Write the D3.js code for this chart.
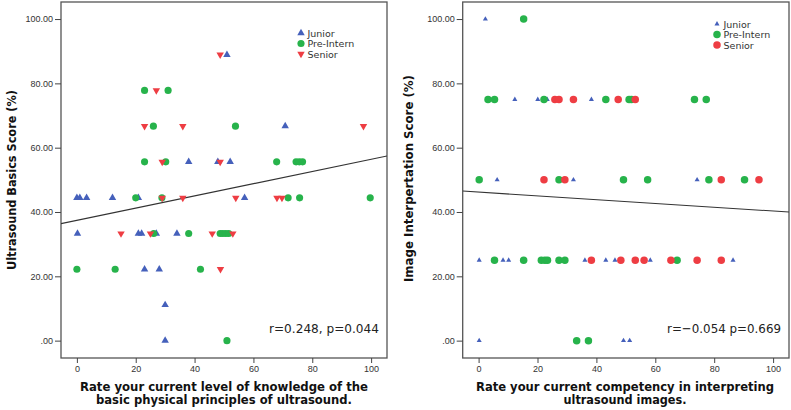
<!DOCTYPE html>
<html><head><meta charset="utf-8">
<script src="https://cdn.jsdelivr.net/npm/d3@7/dist/d3.min.js"></script>
<style>
body{margin:0;background:#fff;}
svg{display:block;font-family:"DejaVu Sans",sans-serif;}
.tick text{fill:#333;font-size:9px;}
.tick line,.domain{stroke:#444;}
</style></head>
<body><svg id="chart" width="791" height="410"></svg>
<script>
// ---------- data ----------
const groups = ["Junior", "Pre-Intern", "Senior"];
const yTicks = [0, 20, 40, 60, 80, 100];
const xTicks = [0, 20, 40, 60, 80, 100];

// Left panel: knowledge rating (x) vs Ultrasound Basics Score (y)
const leftJuniorX = [51, 70.8, 38, 47.9, 52.1, 0, 1, 3.3, 12.1, 20.9, 57, 0.2, 20.9, 22, 27, 34, 23, 28, 30, 30];
const leftJuniorY = [88.9, 66.7, 55.6, 55.6, 55.6, 44.4, 44.4, 44.4, 44.4, 44.4, 44.4, 33.3, 33.3, 33.3, 33.3, 33.3, 22.2, 22.2, 11.1, 0];
const leftPreX = [23, 31, 26, 53.9, 23, 30.2, 67.9, 74.5, 75.6, 76.7, 20, 28.9, 71.8, 75.7, 99.7, 26.1, 38, 48.7, 49.6, 50.6, 51.6, 0, 13, 42, 51];
const leftPreY = [77.8, 77.8, 66.7, 66.7, 55.6, 55.6, 55.6, 55.6, 55.6, 55.6, 44.4, 44.4, 44.4, 44.4, 44.4, 33.3, 33.3, 33.3, 33.3, 33.3, 33.3, 22.2, 22.2, 22.2, 0];
const leftSenX = [48.7, 27, 23, 36, 97.4, 29, 48.7, 29, 36, 54, 68, 69.7, 15, 25, 46, 53, 48.8];
const leftSenY = [88.9, 77.8, 66.7, 66.7, 66.7, 55.6, 55.6, 44.4, 44.4, 44.4, 44.4, 44.4, 33.3, 33.3, 33.3, 33.3, 22.2];

// Right panel: competency rating (x) vs Image Interpretation Score (y)
const rightJuniorX = [2.3, 12.3, 20.1, 23.3, 38.3, 6.3, 32.2, 74.2, 0.2, 8.3, 10.2, 36.1, 43.2, 46.3, 58.3, 86.4, 0.2, 49.2, 51.3];
const rightJuniorY = [100, 75, 75, 75, 75, 50, 50, 50, 25, 25, 25, 25, 25, 25, 25, 25, 0, 0, 0];
const rightPreX = [15.3, 3.2, 5.4, 22.2, 43.2, 51.1, 51.9, 73.3, 77.3, 0.2, 27.3, 49.2, 57.4, 78.2, 90.3, 5.4, 15.3, 21.3, 22.5, 23.4, 27.3, 29.3, 67.4, 33.3, 37.3];
const rightPreY = [100, 75, 75, 75, 75, 75, 75, 75, 75, 50, 50, 50, 50, 50, 50, 25, 25, 25, 25, 25, 25, 25, 25, 0, 0];
const rightSenX = [25.9, 27.3, 32.2, 47.4, 53.2, 22.2, 29.3, 82.4, 95.2, 38.3, 48.3, 53.2, 56.2, 65.3, 74.2, 82.4];
const rightSenY = [75, 75, 75, 75, 75, 50, 50, 50, 50, 25, 25, 25, 25, 25, 25, 25];

// fit lines: [intercept, slope]
const leftFit = [37.4, 0.19];
const rightFit = [46.2, -0.059];
const leftStat = "r=0.248, p=0.044";
const rightStat = "r=\u22120.054 p=0.669";

const colors = ["#4560bb", "#27b34b", "#ee3d43"];

// ---------- drawing ----------
const svg = d3.select("#chart");

function panel(cfg) {
  const x = d3.scaleLinear().domain([-5.4, 105.4]).range([cfg.left, cfg.right]);
  const y = d3.scaleLinear().domain([-5.4, 105.3]).range([358, 2]);
  const g = svg.append("g");

  // frame
  g.append("rect").attr("x", cfg.left).attr("y", 2)
    .attr("width", cfg.right - cfg.left).attr("height", 356)
    .attr("fill", "#fff").attr("stroke", "#555").attr("stroke-width", 1.3);

  // axes
  const ya = g.append("g").attr("transform", `translate(${cfg.left},0)`)
    .call(d3.axisLeft(y).tickValues(yTicks).tickFormat(d => d === 0 ? ".00" : d3.format(".2f")(d)).tickSize(6).tickPadding(2));
  ya.select(".domain").remove();
  const xa = g.append("g").attr("transform", `translate(0,358)`)
    .call(d3.axisBottom(x).tickValues(xTicks).tickSize(5).tickPadding(3));
  xa.select(".domain").remove();

  // fit line
  const clipId = "clip" + Math.round(cfg.left);
  g.append("clipPath").attr("id", clipId).append("rect")
    .attr("x", cfg.left).attr("y", 2).attr("width", cfg.right - cfg.left).attr("height", 356);
  const [x0, x1] = x.domain();
  g.append("line").attr("clip-path", `url(#${clipId})`)
    .attr("x1", x(x0)).attr("y1", y(cfg.fit[0] + cfg.fit[1] * x0))
    .attr("x2", x(x1)).attr("y2", y(cfg.fit[0] + cfg.fit[1] * x1))
    .attr("stroke", "#333").attr("stroke-width", 1.1);

  // points
  const sets = cfg.sets;
  sets.forEach((s, i) => {
    const pts = s.xs.map((v, k) => [v, s.ys[k]]);
    const sym = s.shape;
    g.append("g").selectAll("path").data(pts).join("path")
      .attr("transform", d => `translate(${x(d[0])},${y(d[1])})` + (sym === "down" ? " rotate(180)" : ""))
      .attr("d", sym === "circle" ? d3.symbol(d3.symbolCircle, cfg.circleSize)() :
                 d3.symbol(d3.symbolTriangle, sym === "small" ? cfg.smallTri : cfg.triSize)())
      .attr("fill", colors[i]);
  });

  // legend
  const lg = g.append("g");
  groups.forEach((name, i) => {
    const s = sets[i];
    const ly = cfg.legY + i * 10.5;
    lg.append("path")
      .attr("transform", `translate(${cfg.legX},${ly})` + (s.shape === "down" ? " rotate(180)" : ""))
      .attr("d", s.shape === "circle" ? d3.symbol(d3.symbolCircle, cfg.circleSize)() :
                 d3.symbol(d3.symbolTriangle, s.shape === "small" ? cfg.smallTri : cfg.triSize)())
      .attr("fill", colors[i]);
    lg.append("text").attr("x", cfg.legX + 6.5).attr("y", ly + 3.5)
      .attr("font-size", 9.5).attr("fill", "#333").text(name);
  });

  // stat annotation
  g.append("text").attr("x", cfg.right - 8).attr("y", 333)
    .attr("text-anchor", "end").attr("font-size", 13).attr("fill", "#222")
    .attr("textLength", cfg.statLen).attr("lengthAdjust", "spacingAndGlyphs")
    .text(cfg.stat);

  // y title
  g.append("text").attr("transform", `translate(${cfg.yTitleX},${cfg.yTitleY}) rotate(-90)`)
    .attr("text-anchor", "middle").attr("font-size", 13).attr("font-weight", "bold").attr("fill", "#111")
    .attr("textLength", cfg.yTitleLen).attr("lengthAdjust", "spacingAndGlyphs")
    .text(cfg.yTitle);

  // x title
  cfg.xTitle.forEach((line, i) => {
    g.append("text").attr("x", cfg.xTitleX).attr("y", 390.5 + i * 13.2)
      .attr("text-anchor", "middle").attr("font-size", 11.5).attr("font-weight", "bold").attr("fill", "#111")
      .attr("textLength", cfg.xTitleLens[i]).attr("lengthAdjust", "spacingAndGlyphs")
      .text(line);
  });
}

panel({
  left: 61, right: 387, fit: leftFit,
  sets: [
    {xs: leftJuniorX, ys: leftJuniorY, shape: "up"},
    {xs: leftPreX, ys: leftPreY, shape: "circle"},
    {xs: leftSenX, ys: leftSenY, shape: "down"}
  ],
  circleSize: 40, triSize: 24, smallTri: 12,
  legX: 301, legY: 33,
  stat: leftStat, statLen: 110,
  yTitle: "Ultrasound Basics Score (%)", yTitleX: 16, yTitleY: 180, yTitleLen: 180,
  xTitle: ["Rate your current level of knowledge of the", "basic physical principles of ultrasound."],
  xTitleX: 224, xTitleLens: [288, 256]
});

panel({
  left: 462.7, right: 789, fit: rightFit,
  sets: [
    {xs: rightJuniorX, ys: rightJuniorY, shape: "small"},
    {xs: rightPreX, ys: rightPreY, shape: "circle"},
    {xs: rightSenX, ys: rightSenY, shape: "circle"}
  ],
  circleSize: 44, triSize: 24, smallTri: 11,
  legX: 717, legY: 24,
  stat: rightStat, statLen: 114,
  yTitle: "Image Interpertation Score (%)", yTitleX: 413, yTitleY: 178.5, yTitleLen: 207,
  xTitle: ["Rate your current competency in interpreting", "ultrasound images."],
  xTitleX: 625, xTitleLens: [298, 123]
});
</script></body></html>
